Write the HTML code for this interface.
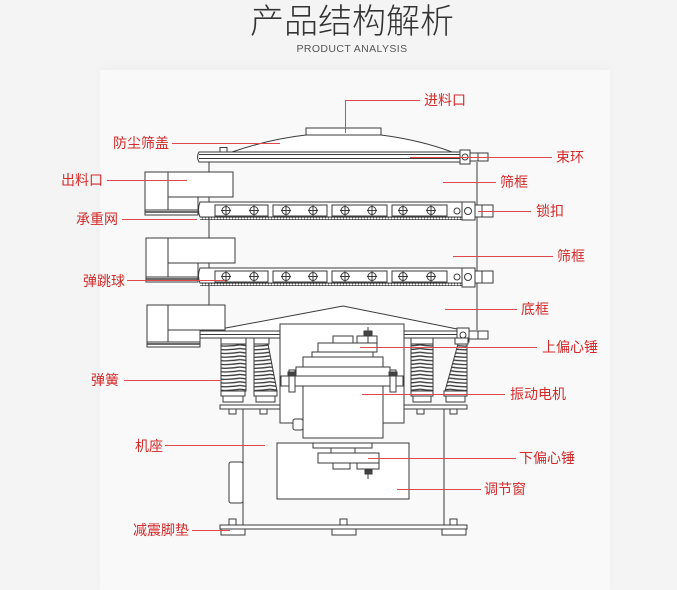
<!DOCTYPE html>
<html><head><meta charset="utf-8"><style>
html,body{margin:0;padding:0;}
body{width:677px;height:574px;background:#f4f4f4;position:relative;overflow:hidden;font-family:"Liberation Sans","Noto Sans CJK SC",sans-serif;}
.panel{position:absolute;left:100px;top:70px;width:510px;height:520px;background:#f9f9f9;box-shadow:0 -3px 10px rgba(0,0,0,0.025);}
svg{position:absolute;left:0;top:0;}
</style></head><body>
<div class="panel"></div>
<svg width="677" height="574" viewBox="0 0 677 574" xmlns="http://www.w3.org/2000/svg">
<defs>
<pattern id="teeth" x="0" y="0" width="3" height="3" patternUnits="userSpaceOnUse">
<path d="M0 0 L1.5 3 L3 0 Z" fill="#444"/>
</pattern>
<pattern id="coil" x="0" y="344" width="30" height="3.7" patternUnits="userSpaceOnUse">
<path d="M0 0.8 Q15 3.4 30 0.8" stroke="#3a3a3a" stroke-width="1.3" fill="none"/>
</pattern>
<clipPath id="cB"><polygon points="254,344 268,344 277,391 254,391"/></clipPath>
<clipPath id="cD"><polygon points="458,344 467,344 467,391 445,391"/></clipPath>
</defs>

<!-- Title -->
<text x="352" y="33" text-anchor="middle" font-family="'Noto Sans CJK SC','WenQuanYi Zen Hei',sans-serif" font-size="34" font-weight="300" fill="#333">产品结构解析</text>
<text x="352" y="52" text-anchor="middle" font-family="'Liberation Sans',sans-serif" font-size="10.5" letter-spacing="0.4" fill="#555">PRODUCT ANALYSIS</text>

<g stroke="#3a3a3a" stroke-width="1" fill="none">
<!-- frame verticals -->
<line x1="209" y1="162" x2="209" y2="330"/>
<line x1="477" y1="162" x2="477" y2="330"/>

<!-- Lid -->
<rect x="306" y="128" width="75" height="7" fill="#fff"/>
<path d="M232 152 Q270 139 306 135 L381 135 Q420 140 452 152" fill="#fff"/>
<rect x="220" y="147.5" width="7" height="4.5" fill="#fff"/>
<path d="M199 152 L460 152 L460 162 L199 162 Q196 157 199 152 Z" fill="#fff"/>
<line x1="199" y1="154.5" x2="460" y2="154.5"/>
<line x1="199" y1="158.5" x2="460" y2="158.5"/>
<rect x="460" y="150" width="10" height="14" fill="#fff"/>
<circle cx="465" cy="157" r="3"/>
<rect x="470" y="153" width="18" height="8" fill="#fff"/>
<line x1="478" y1="153" x2="478" y2="161"/>

<!-- Outlet 1 -->
<rect x="145" y="172" width="23" height="43" fill="#fff"/>
<rect x="168" y="172" width="65" height="25" fill="#fff"/>
<rect x="168" y="197" width="30" height="13" fill="#fff"/>
<rect x="145" y="210" width="53" height="5" fill="#fff"/>
<line x1="145" y1="212" x2="198" y2="212" stroke-width="1.5"/>

<!-- Screen 1 -->
<path d="M200 202 L462 202 L462 217 L200 217 Q197 210 200 202 Z" fill="#fff"/>
<rect x="200" y="217" width="262" height="3" fill="url(#teeth)" stroke="none"/>
<rect x="215" y="205" width="53" height="11"/>
<rect x="273" y="205" width="54" height="11"/>
<rect x="332" y="205" width="55" height="11"/>
<rect x="392" y="205" width="55" height="11"/>
<g>
<circle cx="226" cy="210.5" r="4"/><circle cx="254" cy="210.5" r="4"/>
<circle cx="286" cy="210.5" r="4"/><circle cx="313" cy="210.5" r="4"/>
<circle cx="345" cy="210.5" r="4"/><circle cx="372" cy="210.5" r="4"/>
<circle cx="403" cy="210.5" r="4"/><circle cx="431" cy="210.5" r="4"/>
<path d="M221 210.5h10M226 205.5v10M249 210.5h10M254 205.5v10M281 210.5h10M286 205.5v10M308 210.5h10M313 205.5v10M340 210.5h10M345 205.5v10M367 210.5h10M372 205.5v10M398 210.5h10M403 205.5v10M426 210.5h10M431 205.5v10"/>
</g>
<circle cx="457" cy="211" r="3"/>
<rect x="462" y="202" width="13" height="18" fill="#fff"/>
<circle cx="468" cy="211" r="3.5"/>
<rect x="475" y="205" width="18" height="12" fill="#fff"/>
<line x1="482" y1="205" x2="482" y2="217"/>

<!-- Outlet 2 -->
<rect x="146" y="238" width="22" height="44" fill="#fff"/>
<rect x="168" y="238" width="67" height="25" fill="#fff"/>
<rect x="168" y="263" width="30" height="14" fill="#fff"/>
<rect x="146" y="277" width="52" height="5" fill="#fff"/>
<line x1="146" y1="279" x2="198" y2="279" stroke-width="1.5"/>

<!-- Screen 2 -->
<path d="M200 268 L462 268 L462 283 L200 283 Q197 276 200 268 Z" fill="#fff"/>
<rect x="200" y="283" width="262" height="3" fill="url(#teeth)" stroke="none"/>
<rect x="215" y="271" width="53" height="11"/>
<rect x="273" y="271" width="54" height="11"/>
<rect x="332" y="271" width="55" height="11"/>
<rect x="392" y="271" width="55" height="11"/>
<circle cx="226" cy="276.5" r="4"/><circle cx="254" cy="276.5" r="4"/>
<circle cx="286" cy="276.5" r="4"/><circle cx="313" cy="276.5" r="4"/>
<circle cx="345" cy="276.5" r="4"/><circle cx="372" cy="276.5" r="4"/>
<circle cx="403" cy="276.5" r="4"/><circle cx="431" cy="276.5" r="4"/>
<path d="M221 276.5h10M226 271.5v10M249 276.5h10M254 271.5v10M281 276.5h10M286 271.5v10M308 276.5h10M313 271.5v10M340 276.5h10M345 271.5v10M367 276.5h10M372 271.5v10M398 276.5h10M403 271.5v10M426 276.5h10M431 271.5v10"/>
<circle cx="457" cy="277" r="3"/>
<rect x="462" y="268" width="13" height="19" fill="#fff"/>
<circle cx="468" cy="277" r="3.5"/>
<rect x="475" y="271" width="18" height="12" fill="#fff"/>
<line x1="482" y1="271" x2="482" y2="283"/>

<!-- Base cone and rim -->
<path d="M210 331 L343 306 L467 331" fill="#fff"/>
<rect x="200" y="331" width="262" height="7" fill="#fff"/>
<line x1="200" y1="334.5" x2="462" y2="334.5"/>
<rect x="457" y="328" width="12" height="14" fill="#fff"/>
<circle cx="463" cy="335" r="3"/>
<rect x="469" y="331" width="19" height="8" fill="#fff"/>
<line x1="478" y1="331" x2="478" y2="339"/>

<!-- Outlet 3 -->
<rect x="147" y="305" width="21" height="42" fill="#fff"/>
<rect x="168" y="305" width="57" height="25" fill="#fff"/>
<rect x="168" y="330" width="32" height="12" fill="#fff"/>
<rect x="147" y="342" width="53" height="5" fill="#fff"/>
<line x1="147" y1="344" x2="200" y2="344" stroke-width="1.5"/>

<!-- spring top caps -->
<rect x="221" y="338" width="25" height="6" fill="#fff"/>
<rect x="254" y="338" width="15" height="6" fill="#fff"/>
<rect x="411" y="338" width="22" height="6" fill="#fff"/>
<rect x="455" y="338" width="13" height="6" fill="#fff"/>

<!-- Springs -->
<rect x="221" y="344" width="25" height="47" fill="#fff"/>
<rect x="221" y="344" width="25" height="47" fill="url(#coil)" stroke="none"/>
<polygon points="254,344 268,344 277,391 254,391" fill="#fff"/>
<rect x="250" y="344" width="30" height="47" fill="url(#coil)" stroke="none" clip-path="url(#cB)"/>
<rect x="411" y="344" width="22" height="47" fill="#fff"/>
<rect x="411" y="344" width="22" height="47" fill="url(#coil)" stroke="none"/>
<polygon points="458,344 467,344 467,391 445,391" fill="#fff"/>
<rect x="440" y="344" width="30" height="47" fill="url(#coil)" stroke="none" clip-path="url(#cD)"/>

<!-- pads -->
<rect x="221" y="391" width="24" height="5" fill="#fff"/><rect x="223" y="396" width="20" height="6" fill="#fff"/>
<rect x="254" y="391" width="23" height="5" fill="#fff"/><rect x="256" y="396" width="19" height="6" fill="#fff"/>
<rect x="411" y="391" width="22" height="5" fill="#fff"/><rect x="413" y="396" width="18" height="6" fill="#fff"/>
<rect x="444" y="391" width="23" height="5" fill="#fff"/><rect x="446" y="396" width="19" height="6" fill="#fff"/>
<rect x="220" y="405" width="61" height="4" fill="#fff"/>
<rect x="404" y="405" width="63" height="4" fill="#fff"/>
<rect x="229" y="409" width="7" height="5" fill="#fff"/>
<rect x="260" y="409" width="7" height="5" fill="#fff"/>
<rect x="417" y="409" width="7" height="5" fill="#fff"/>
<rect x="450" y="409" width="7" height="5" fill="#fff"/>

<!-- Stand -->
<line x1="243" y1="409" x2="243" y2="525"/>
<line x1="444" y1="409" x2="444" y2="525"/>

<!-- Motor housing -->
<rect x="280" y="324" width="124" height="99" fill="#fff"/>
<rect x="333" y="336" width="20" height="7" fill="#fff"/>
<rect x="357" y="336" width="20" height="7" fill="#fff"/>
<line x1="368" y1="327" x2="368" y2="347"/>
<rect x="364" y="331" width="8" height="5" fill="#444"/>
<rect x="318" y="343" width="59" height="9" fill="#fff"/>
<rect x="312" y="352" width="61" height="5" fill="#fff"/>
<rect x="303" y="357" width="80" height="10" fill="#fff"/>
<rect x="296" y="367" width="94" height="9" fill="#fff"/>
<rect x="281" y="376" width="122" height="10" fill="#fff"/>
<rect x="289" y="370" width="6" height="22" fill="#fff"/>
<rect x="390" y="370" width="6" height="22" fill="#fff"/>
<rect x="288" y="372" width="8" height="4" fill="#444"/>
<rect x="389" y="372" width="8" height="4" fill="#444"/>
<rect x="303" y="386" width="80" height="52" fill="#fff"/>
<rect x="293" y="419" width="10" height="11" rx="2" fill="#fff"/>

<!-- Adjust window -->
<rect x="277" y="443" width="132" height="56" fill="#fff"/>
<rect x="313" y="443" width="59" height="5" fill="#fff"/>
<rect x="331" y="448" width="24" height="5" fill="#fff"/>
<rect x="318" y="453" width="61" height="10" fill="#fff"/>
<rect x="333" y="463" width="17" height="6" fill="#fff"/>
<rect x="357" y="463" width="22" height="6" fill="#fff"/>
<line x1="368" y1="469" x2="368" y2="479"/>
<rect x="365" y="470" width="7" height="4" fill="#444"/>

<!-- side window -->
<rect x="229" y="462" width="14" height="41" rx="2" fill="#fff"/>

<!-- base plate -->
<rect x="220" y="525" width="247" height="4" fill="#fff"/>
<rect x="221" y="529" width="24" height="6" fill="#fff"/>
<rect x="332" y="529" width="24" height="6" fill="#fff"/>
<rect x="442" y="529" width="24" height="6" fill="#fff"/>
<rect x="229" y="519" width="7" height="6" fill="#fff"/>
<rect x="340" y="519" width="7" height="6" fill="#fff"/>
<rect x="450" y="519" width="7" height="6" fill="#fff"/>
</g>

<!-- Red leader lines -->
<g stroke="#de4a4a" stroke-width="1" fill="none">
<path d="M345.5 133 V100.5 H420"/>
<line x1="172" y1="143.5" x2="280" y2="143.5"/>
<line x1="107" y1="180.5" x2="187" y2="180.5"/>
<line x1="122" y1="219.5" x2="197" y2="219.5"/>
<line x1="127" y1="280.5" x2="225" y2="280.5"/>
<line x1="124" y1="380.5" x2="221" y2="380.5"/>
<line x1="165" y1="445.5" x2="265" y2="445.5"/>
<line x1="192" y1="530.5" x2="230" y2="530.5"/>
<line x1="410" y1="157.5" x2="552" y2="157.5"/>
<line x1="443" y1="182.5" x2="496" y2="182.5"/>
<line x1="478" y1="211.5" x2="531" y2="211.5"/>
<line x1="453" y1="256.5" x2="553" y2="256.5"/>
<line x1="445" y1="309.5" x2="517" y2="309.5"/>
<line x1="360" y1="347.5" x2="537" y2="347.5"/>
<line x1="362" y1="394.5" x2="505" y2="394.5"/>
<line x1="368" y1="458.5" x2="516" y2="458.5"/>
<line x1="397" y1="489.5" x2="481" y2="489.5"/>
</g>

<!-- Labels -->
<g font-family="'Liberation Sans','Noto Sans CJK SC',sans-serif" font-size="14" fill="#d42a2a">
<text x="424" y="105">进料口</text>
<text x="169" y="148" text-anchor="end">防尘筛盖</text>
<text x="103" y="185" text-anchor="end">出料口</text>
<text x="118" y="224" text-anchor="end">承重网</text>
<text x="125" y="286" text-anchor="end">弹跳球</text>
<text x="119" y="385" text-anchor="end">弹簧</text>
<text x="163" y="451" text-anchor="end">机座</text>
<text x="189" y="535" text-anchor="end">减震脚垫</text>
<text x="556" y="162">束环</text>
<text x="500" y="187">筛框</text>
<text x="536" y="216">锁扣</text>
<text x="557" y="261">筛框</text>
<text x="521" y="314">底框</text>
<text x="542" y="352">上偏心锤</text>
<text x="510" y="399">振动电机</text>
<text x="519" y="463">下偏心锤</text>
<text x="484" y="494">调节窗</text>
</g>
</svg>
</body></html>
